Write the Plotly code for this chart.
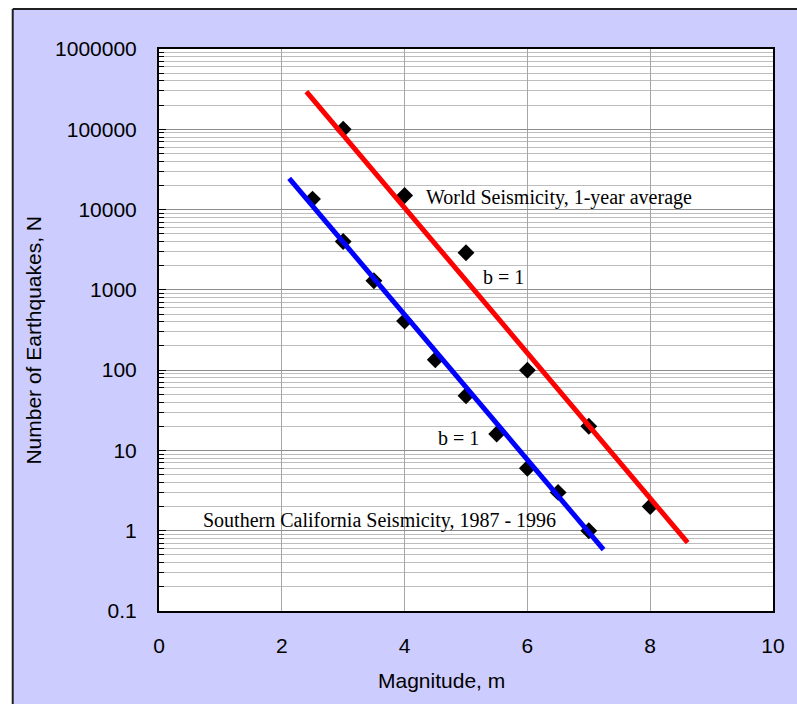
import plotly.graph_objects as go

# Cumulative earthquake counts N (events with magnitude >= m)
world_mag = [3, 4, 5, 6, 7, 8]
world_count = [100000, 15000, 2900, 100, 20, 2]

socal_mag = [2.5, 3, 3.5, 4, 4.5, 5, 5.5, 6, 6.5, 7]
socal_count = [13500, 4000, 1300, 410, 135, 48, 16, 6, 3, 1]

# Gutenberg-Richter fit lines (end points)
world_fit_mag = [2.40, 8.61]
world_fit_count = [295000, 0.71]
socal_fit_mag = [2.12, 7.24]
socal_fit_count = [24500, 0.58]

y_tick_vals = [0.1, 1, 10, 100, 1000, 10000, 100000, 1000000]
y_tick_text = ["0.1", "1", "10", "100", "1000", "10000", "100000", "1000000"]
y_minor_vals = [k * 10 ** d for d in range(-1, 6) for k in range(2, 10)]

SANS = "Liberation Sans, Arial, sans-serif"
SERIF = "Liberation Serif, Times New Roman, serif"

fig = go.Figure()

fig.add_trace(go.Scatter(
    x=world_mag, y=world_count, mode="markers",
    marker=dict(symbol="diamond", size=13, color="black"),
    showlegend=False))
fig.add_trace(go.Scatter(
    x=socal_mag, y=socal_count, mode="markers",
    marker=dict(symbol="diamond", size=13, color="black"),
    showlegend=False))
fig.add_trace(go.Scatter(
    x=world_fit_mag, y=world_fit_count, mode="lines",
    line=dict(color="#FF0000", width=5), showlegend=False))
fig.add_trace(go.Scatter(
    x=socal_fit_mag, y=socal_fit_count, mode="lines",
    line=dict(color="#0000FF", width=5), showlegend=False))

W, H = 797, 704
L, R, T, B = 159, 21, 49, 93
pw, ph = W - L - R, H - T - B


def px_x(p):
    return (p - L) / pw


def px_y(p):
    return (H - B - p) / ph


shapes = [
    # white page strips around the lavender panel
    dict(type="rect", xref="paper", yref="paper", layer="below",
         x0=px_x(-10), x1=px_x(12), y0=px_y(H + 10), y1=px_y(-10),
         fillcolor="white", line=dict(width=0)),
    dict(type="rect", xref="paper", yref="paper", layer="below",
         x0=px_x(-10), x1=px_x(W + 10), y0=px_y(9), y1=px_y(-10),
         fillcolor="white", line=dict(width=0)),
    # panel border
    dict(type="line", xref="paper", yref="paper", layer="below",
         x0=px_x(12), x1=px_x(12), y0=px_y(H + 10), y1=px_y(9),
         line=dict(color="#202020", width=2)),
    dict(type="line", xref="paper", yref="paper", layer="below",
         x0=px_x(12), x1=px_x(W + 10), y0=px_y(9), y1=px_y(9),
         line=dict(color="#202020", width=2)),
]

serif_font = dict(family=SERIF, size=20, color="black")
sans_font = dict(family=SANS, size=21, color="black")

annotations = [
    dict(x=6.507, y=4.147, text="World Seismicity, 1-year average",
         showarrow=False, xanchor="center", yanchor="middle", font=serif_font),
    dict(x=5.616, y=3.163, text="b = 1",
         showarrow=False, xanchor="center", yanchor="middle", font=serif_font),
    dict(x=4.878, y=1.152, text="b = 1",
         showarrow=False, xanchor="center", yanchor="middle", font=serif_font),
    dict(x=3.59, y=0.1245, text="Southern California Seismicity, 1987 - 1996",
         showarrow=False, xanchor="center", yanchor="middle", font=serif_font),
    # axis titles
    dict(xref="paper", yref="paper", x=px_x(443), y=px_y(680),
         text="Magnitude, m", showarrow=False,
         xanchor="center", yanchor="middle", font=sans_font),
    dict(xref="paper", yref="paper", x=px_x(32), y=px_y(340),
         text="Number of Earthquakes, N", showarrow=False, textangle=-90,
         xanchor="center", yanchor="middle", font=sans_font),
]

fig.update_layout(
    width=W, height=H,
    margin=dict(l=L, r=R, t=T, b=B, pad=0),
    paper_bgcolor="#CCCCFF",
    plot_bgcolor="white",
    font=sans_font,
    shapes=shapes,
    annotations=annotations,
    xaxis=dict(
        range=[0, 10], dtick=2, tick0=0,
        showgrid=True, gridcolor="#A6A6A6", gridwidth=1,
        zeroline=False,
        showline=True, linecolor="black", linewidth=2, mirror=True,
        ticks="", ticklabelstandoff=15,
        tickfont=sans_font,
    ),
    yaxis=dict(
        type="log", range=[-1, 6],
        tickvals=y_tick_vals, ticktext=y_tick_text,
        showgrid=True, gridcolor="#8C8C8C", gridwidth=1,
        zeroline=False,
        showline=True, linecolor="black", linewidth=2, mirror=True,
        ticks="inside", ticklen=7, tickcolor="black", tickwidth=1,
        ticklabelstandoff=16,
        tickfont=sans_font,
        minor=dict(tickvals=y_minor_vals, showgrid=True,
                   gridcolor="#BDBDBD", gridwidth=1,
                   ticks="inside", ticklen=5, tickcolor="black"),
    ),
)

fig.write_html("out.html")
